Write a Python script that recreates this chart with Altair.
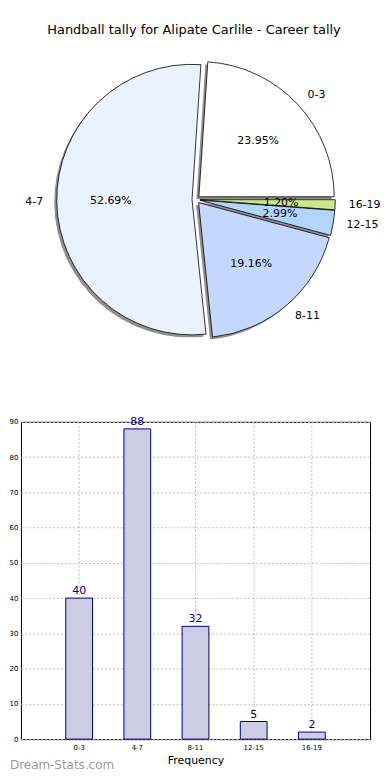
import altair as alt
import pandas as pd

CATS = ["0-3", "4-7", "8-11", "12-15", "16-19"]
VALUES = [40, 88, 32, 5, 2]
PIE_COLORS = ["#FFFFFF", "#EAF1FF", "#C4D8FF", "#B3D4FF", "#CCE68A"]
TITLE = "Handball tally for Alipate Carlile - Career tally"
X_TITLE = "Frequency"
WATERMARK = "Dream-Stats.com"
Y_TICKS = list(range(0, 91, 10))

FONT = "DejaVu Sans"
CX, CY, R, E, SH = 176.0, 189.5, 136, 4, 2.5

df = pd.DataFrame({"cat": CATS, "value": VALUES})

base = (
    alt.Chart(df)
    .transform_window(cum="sum(value)", frame=[None, 0])
    .transform_joinaggregate(total="sum(value)")
    .transform_calculate(phi0="(datum.cum - datum.value) / datum.total * 2 * PI")
    .transform_calculate(phi1="datum.cum / datum.total * 2 * PI")
    .transform_calculate(phim="(datum.phi0 + datum.phi1) / 2")
    .transform_calculate(t0="PI / 2 - datum.phi0")
    .transform_calculate(t1="PI / 2 - datum.phi1")
    .transform_calculate(ox=f"{CX} + {E} * cos(datum.phim)")
    .transform_calculate(oy=f"{CY} - {E} * sin(datum.phim)")
    .transform_calculate(sx=f"datum.ox - {SH}")
    .transform_calculate(sy=f"datum.oy + {SH}")
    .transform_calculate(lx=f"datum.ox + {1.1 * R} * cos(datum.phim)")
    .transform_calculate(ly=f"datum.oy - {1.1 * R} * sin(datum.phim)")
    .transform_calculate(px=f"datum.ox + {0.6 * R} * cos(datum.phim)")
    .transform_calculate(py=f"datum.oy - {0.6 * R} * sin(datum.phim)")
    .transform_calculate(pct="format(datum.value / datum.total * 100, '.2f') + '%'")
)

theta = alt.Theta("t0:Q", scale=None, stack=None)
theta2 = alt.Theta2("t1:Q")

shadow = base.mark_arc(radius=R, fill="#8f8f8f", strokeWidth=0).encode(
    theta=theta, theta2=theta2,
    x=alt.X("sx:Q", scale=None), y=alt.Y("sy:Q", scale=None),
)
wedges = base.mark_arc(radius=R, stroke="black", strokeWidth=0.8).encode(
    theta=theta, theta2=theta2,
    x=alt.X("ox:Q", scale=None), y=alt.Y("oy:Q", scale=None),
    color=alt.Color("cat:N", scale=alt.Scale(domain=CATS, range=PIE_COLORS), legend=None),
)
lab_r = base.transform_filter("cos(datum.phim) >= 0").mark_text(
    align="left", baseline="middle", fontSize=11, font=FONT, color="black"
).encode(x=alt.X("lx:Q", scale=None), y=alt.Y("ly:Q", scale=None), text="cat:N")
lab_l = base.transform_filter("cos(datum.phim) < 0").mark_text(
    align="right", baseline="middle", fontSize=11, font=FONT, color="black"
).encode(x=alt.X("lx:Q", scale=None), y=alt.Y("ly:Q", scale=None), text="cat:N")
pct = base.mark_text(
    align="center", baseline="middle", fontSize=11, font=FONT, color="black"
).encode(x=alt.X("px:Q", scale=None), y=alt.Y("py:Q", scale=None), text="pct:N")

title = alt.Chart(pd.DataFrame({"t": [TITLE]})).mark_text(
    align="center", baseline="middle", fontSize=13, font=FONT, color="black"
).encode(x=alt.value(174), y=alt.value(19), text="t:N")

pie = alt.layer(shadow, wedges, pct, lab_r, lab_l, title).properties(
    width=362, height=405, view=alt.ViewBackground(stroke="transparent")
)

bbase = alt.Chart(df)
xenc = alt.X(
    "cat:N", sort=CATS,
    scale=alt.Scale(paddingInner=0.54, paddingOuter=0.77),
    axis=alt.Axis(
        title=X_TITLE, labelAngle=0, labelFontSize=7, labelFont=FONT, labelColor="black",
        labelPadding=4, ticks=False, domain=False, bandPosition=0.5,
        grid=True, gridColor="#bbbbbb", gridDash=[2, 2], gridWidth=1,
        titleFont=FONT, titleFontSize=11, titleFontWeight="normal", titleColor="black", titlePadding=4,
    ),
)
yenc = alt.Y(
    "value:Q",
    scale=alt.Scale(domain=[0, 90], nice=False),
    axis=alt.Axis(
        title=None, values=Y_TICKS, labelFontSize=7, labelFont=FONT, labelColor="black",
        labelPadding=3, ticks=False, domain=False,
        grid=True, gridColor="#bbbbbb", gridDash=[2, 2], gridWidth=1,
    ),
)
bars = bbase.mark_bar(fill="#CCCCE4", stroke="#000080", strokeWidth=1).encode(x=xenc, y=yenc)
btext = bbase.mark_text(
    baseline="alphabetic", dy=-4, fontSize=11, font=FONT, color="#000080"
).encode(x=xenc, y=yenc, text="value:Q")
wm = alt.Chart(pd.DataFrame({"t": [WATERMARK]})).mark_text(
    align="left", baseline="middle", fontSize=12, font=FONT, color="#999999"
).encode(x=alt.value(-11), y=alt.value(345), text="t:N")

barchart = alt.layer(bars, btext, wm).properties(
    width=351, height=319, view=alt.ViewBackground(stroke="black", strokeWidth=1)
)

chart = (
    alt.vconcat(pie, barchart, spacing=0)
    .properties(padding=0)
    .configure_view(stroke="transparent")
    .configure(font=FONT)
)

chart.save("out.html", embed_options={"renderer": "svg", "actions": False})
